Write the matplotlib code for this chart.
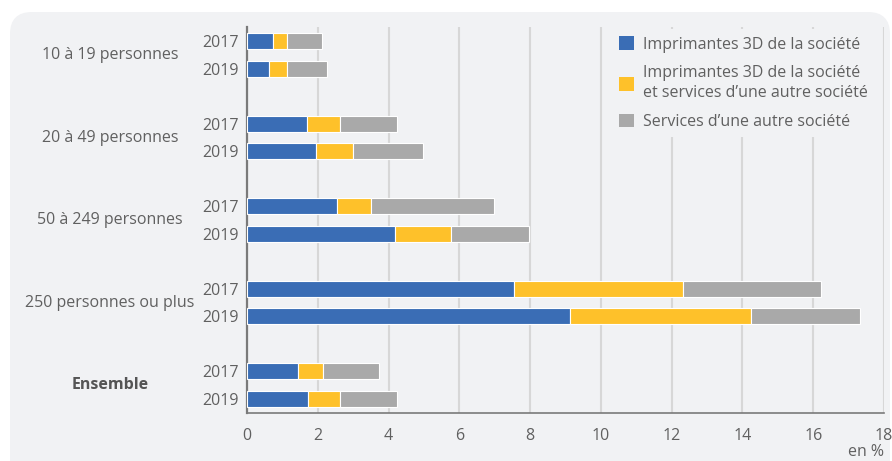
import matplotlib.pyplot as plt
import matplotlib.transforms as mtransforms
from matplotlib.patches import FancyBboxPatch, Patch

plt.rcParams['font.family'] = ['Open Sans', 'DejaVu Sans']

# ------------------------------------------------------------------
# Données (en %), ordre : 2017 puis 2019 pour chaque taille
# ------------------------------------------------------------------
groupes = ['10 à 19 personnes', '20 à 49 personnes', '50 à 249 personnes',
           '250 personnes ou plus', 'Ensemble']
annees = ['2017', '2019']

imprimantes = [0.74, 0.62, 1.69, 1.95, 2.53, 4.18, 7.54, 9.12, 1.45, 1.72]
imprimantes_et_services = [0.38, 0.50, 0.95, 1.05, 0.97, 1.58, 4.79, 5.11, 0.71, 0.92]
services = [1.00, 1.14, 1.60, 1.97, 3.48, 2.21, 3.88, 3.09, 1.57, 1.60]

series = ['Imprimantes 3D de la société',
          'Imprimantes 3D de la société\net services d\u2019une autre société',
          'Services d\u2019une autre société']
couleurs = ['#3a6db5', '#fec12a', '#a9a9a9']

FOND = '#f1f2f4'
TEXTE = '#606060'
TAILLE = 11.5

W, H = 892, 461
fig = plt.figure(figsize=(W / 100, H / 100), dpi=100, facecolor='white')

# panneau gris arrondi
fond = FancyBboxPatch((10, -30), W - 12, H - 12 + 30,
                      boxstyle='round,pad=0,rounding_size=22',
                      transform=mtransforms.IdentityTransform(),
                      facecolor=FOND, edgecolor='none', zorder=0)
fig.add_artist(fond)

ax = fig.add_axes([247 / W, 1 - 413 / H, (884 - 247) / W, (413 - 27) / H])
ax.patch.set_visible(False)

# positions des barres : 3 unités par groupe, 1 unité entre les années
pos = []
for i in range(len(groupes)):
    for j in range(len(annees)):
        pos.append(1.5 + 3 * i + j)

gauche = [0.0] * len(pos)
for valeurs, couleur, nom in zip([imprimantes, imprimantes_et_services, services], couleurs, series):
    ax.barh(pos, valeurs, left=gauche, height=0.58, color=couleur,
            edgecolor='white', linewidth=0.8, label=nom, zorder=3)
    gauche = [g + v for g, v in zip(gauche, valeurs)]

ax.set_xlim(0, 18)
ax.set_ylim(413 / 27.5, 27 / 27.5)
ax.set_xticks(range(0, 19, 2))
ax.set_yticks(pos)
ax.set_yticklabels(annees * len(groupes))

ax.grid(axis='x', color='#d7d7d7', linewidth=1.5)
ax.set_axisbelow(True)
for s in ['top', 'right']:
    ax.spines[s].set_visible(False)
ax.spines['left'].set_color('#7a7a7a')
ax.spines['left'].set_linewidth(1.6)
ax.spines['bottom'].set_color('#7a7a7a')
ax.spines['bottom'].set_linewidth(1.2)

ax.tick_params(axis='y', length=0, pad=6, labelsize=TAILLE, labelcolor=TEXTE)
ax.tick_params(axis='x', length=0, pad=10.5, labelsize=TAILLE, labelcolor=TEXTE)

# libellés des groupes
trans = mtransforms.blended_transform_factory(fig.transFigure, ax.transData)
for i, g in enumerate(groupes):
    ax.text(110 / W, 2 + 3 * i, g, transform=trans, ha='center', va='center',
            fontsize=TAILLE, color='#555555' if g == 'Ensemble' else TEXTE,
            fontweight='bold' if g == 'Ensemble' else 'normal')

handles = [Patch(facecolor=c, edgecolor='none') for c in couleurs]
leg = ax.legend(handles, series, loc='upper left',
                bbox_to_anchor=(612 / W, 1 - 29 / H), bbox_transform=fig.transFigure,
                frameon=True, facecolor=FOND, edgecolor='none', fancybox=False,
                framealpha=1, fontsize=TAILLE, handlelength=0.95, handleheight=0.95,
                handletextpad=0.55, labelspacing=0.8, borderpad=0.45, borderaxespad=0)
for t in leg.get_texts():
    t.set_color(TEXTE)
    t.set_linespacing(1.3)

fig.text(884 / W, 1 - 460 / H, 'en %', ha='right', va='bottom', fontsize=TAILLE, color=TEXTE)

fig.savefig('out.png', dpi=100, facecolor='white')
